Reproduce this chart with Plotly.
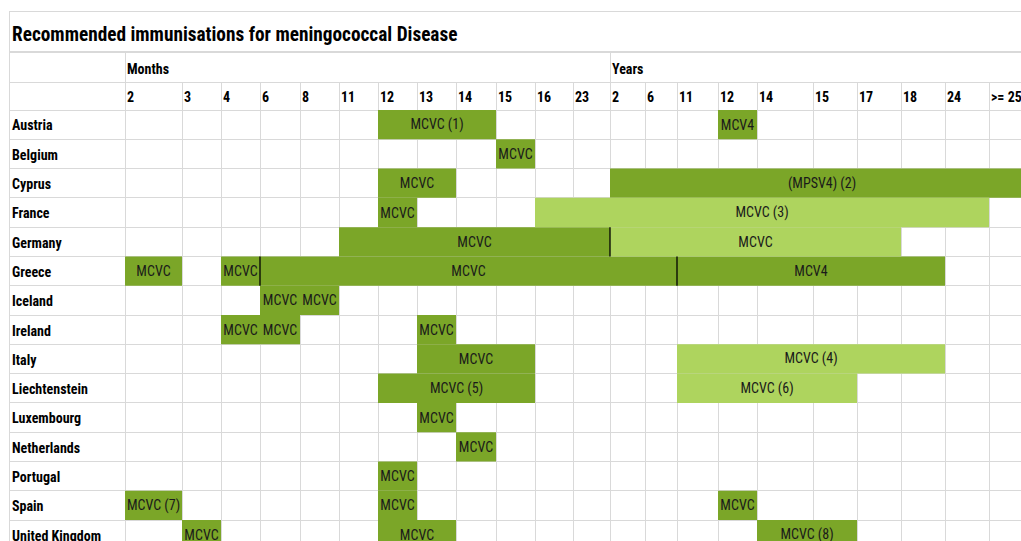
import plotly.graph_objects as go

# ---------------- data ----------------
TITLE = "Recommended immunisations for meningococcal Disease"
AGE_GROUPS = ["Months", "Years"]
MONTH_TICKS = ["2", "3", "4", "6", "8", "11", "12", "13", "14", "15", "16", "23"]
YEAR_TICKS = ["2", "6", "11", "12", "14", "15", "17", "18", "24", ">= 25"]
COUNTRIES = ["Austria", "Belgium", "Cyprus", "France", "Germany", "Greece",
             "Iceland", "Ireland", "Italy", "Liechtenstein", "Luxembourg",
             "Netherlands", "Portugal", "Spain", "United Kingdom"]

# Doses in dark green: country, first age column, last age column, label
# (column keys: "M" + month tick, "Y" + year tick)
DARK_COUNTRY = ["Austria", "Austria", "Belgium", "Cyprus", "Cyprus", "France",
                "Germany", "Greece", "Greece", "Greece", "Greece",
                "Iceland", "Iceland", "Ireland", "Ireland", "Ireland",
                "Italy", "Liechtenstein", "Luxembourg", "Netherlands",
                "Portugal", "Spain", "Spain", "Spain",
                "United Kingdom", "United Kingdom", "United Kingdom"]
DARK_FROM = ["M12", "Y12", "M15", "M12", "Y2", "M12",
             "M11", "M2", "M4", "M6", "Y11",
             "M6", "M8", "M4", "M6", "M13",
             "M13", "M12", "M13", "M14",
             "M12", "M2", "M12", "Y12",
             "M3", "M12", "Y14"]
DARK_TO = ["M14", "Y12", "M15", "M13", "Y>= 25", "M12",
           "M23", "M2", "M4", "Y6", "Y18",
           "M6", "M8", "M4", "M6", "M13",
           "M15", "M15", "M13", "M14",
           "M12", "M2", "M12", "Y12",
           "M3", "M13", "Y15"]
DARK_LABEL = ["MCVC (1)", "MCV4", "MCVC", "MCVC", "(MPSV4) (2)", "MCVC",
              "MCVC", "MCVC", "MCVC", "MCVC", "MCV4",
              "MCVC", "MCVC", "MCVC", "MCVC", "MCVC",
              "MCVC", "MCVC (5)", "MCVC", "MCVC",
              "MCVC", "MCVC (7)", "MCVC", "MCVC",
              "MCVC", "MCVC", "MCVC (8)"]

# Doses in light green
LIGHT_COUNTRY = ["France", "Germany", "Italy", "Liechtenstein"]
LIGHT_FROM = ["M16", "Y2", "Y11", "Y11"]
LIGHT_TO = ["Y24", "Y17", "Y18", "Y15"]
LIGHT_LABEL = ["MCVC (3)", "MCVC", "MCVC (4)", "MCVC (6)"]

# Cell borders drawn in black: country, column whose left edge carries the border
BORDER_COUNTRY = ["Germany", "Greece", "Greece"]
BORDER_COLUMN = ["Y2", "M6", "Y11"]

# ---------------- layout (pixel geometry of the sheet) ----------------
W, H = 1021, 541
SHEET_LEFT = 10
LABEL_COL_W = 115
COL_W = [57, 39, 39, 40, 39, 39, 39, 39, 40, 39, 38, 37,
         35, 32, 41, 39, 56, 44, 44, 44, 44, 45]
TITLE_TOP, MONTHS_TOP, NUMS_TOP, BODY_TOP = 12, 52, 82, 110
ROW_PX = 29.29
TEXT_DY = 0.08  # cell text sits slightly below the row centre

DARK = "#7BA628"
LIGHT = "#AED45E"
GRID = "#D9D9D9"
FONT = ("Roboto Condensed, Liberation Sans Narrow, Arial Narrow, "
        "DejaVu Sans Condensed, Roboto, sans-serif")

col_keys = ["M" + t for t in MONTH_TICKS] + ["Y" + t for t in YEAR_TICKS]
edges = [SHEET_LEFT + LABEL_COL_W]
for w in COL_W:
    edges.append(edges[-1] + w)
left = {k: edges[i] for i, k in enumerate(col_keys)}
right = {k: edges[i + 1] for i, k in enumerate(col_keys)}
row = {c: i for i, c in enumerate(COUNTRIES)}


def py(px):
    """paper y from pixel y"""
    return 1 - px / H


nums_row_units = (BODY_TOP - NUMS_TOP) / ROW_PX
y_top = -0.5 - nums_row_units
y_bottom = -0.5 + (H - BODY_TOP) / ROW_PX
nums_center = -0.5 - nums_row_units / 2

fig = go.Figure()


def add_bars(countries, froms, tos, labels, color):
    fig.add_trace(go.Bar(
        orientation="h",
        y=[row[c] for c in countries],
        base=[left[f] for f in froms],
        x=[right[t] - left[f] for f, t in zip(froms, tos)],
        width=1,
        text=labels,
        textposition="inside",
        insidetextanchor="middle",
        constraintext="none",
        textangle=0,
        textfont=dict(family=FONT, size=14, color="#1A1A1A"),
        marker=dict(color=color, line=dict(width=0)),
        hoverinfo="skip",
        showlegend=False,
        xaxis="x", yaxis="y",
    ))


add_bars(DARK_COUNTRY, DARK_FROM, DARK_TO, DARK_LABEL, DARK)
add_bars(LIGHT_COUNTRY, LIGHT_FROM, LIGHT_TO, LIGHT_LABEL, LIGHT)

# black cell borders
bx, by = [], []
for c, k in zip(BORDER_COUNTRY, BORDER_COLUMN):
    bx += [left[k], left[k], None]
    by += [row[c] - 0.5, row[c] + 0.5, None]
fig.add_trace(go.Scatter(x=bx, y=by, mode="lines",
                         line=dict(color="black", width=1.3),
                         hoverinfo="skip", showlegend=False))

# country labels
fig.add_trace(go.Scatter(
    x=[SHEET_LEFT + 2] * len(COUNTRIES),
    y=[i + TEXT_DY for i in range(len(COUNTRIES))],
    text=COUNTRIES, mode="text", textposition="middle right",
    textfont=dict(family=FONT, size=14, color="black", weight="bold"),
    hoverinfo="skip", showlegend=False))

# age column numbers
fig.add_trace(go.Scatter(
    x=[e + 2 for e in edges[:-1]], y=[nums_center + TEXT_DY] * len(col_keys),
    text=MONTH_TICKS + YEAR_TICKS, mode="text", textposition="middle right",
    textfont=dict(family=FONT, size=14, color="black", weight="bold"),
    hoverinfo="skip", showlegend=False))

# Months / Years header
group_starts = [left["M" + MONTH_TICKS[0]], left["Y" + YEAR_TICKS[0]]]
fig.add_trace(go.Scatter(
    x=[g + 2 for g in group_starts], y=[0.6, 0.6],
    text=AGE_GROUPS, mode="text", textposition="middle right",
    textfont=dict(family=FONT, size=14, color="black", weight="bold"),
    hoverinfo="skip", showlegend=False, xaxis="x2", yaxis="y2"))

# title row
fig.add_trace(go.Scatter(
    x=[SHEET_LEFT + 2], y=[0.6], text=[TITLE], mode="text",
    textposition="middle right",
    textfont=dict(family=FONT, size=19.3, color="black", weight="bold"),
    hoverinfo="skip", showlegend=False, xaxis="x3", yaxis="y3"))

xdom = [SHEET_LEFT / W, 1]
xcommon = dict(domain=xdom, range=[SHEET_LEFT, W], showticklabels=False,
               ticks="", zeroline=False, gridcolor=GRID, gridwidth=1.2,
               linecolor=GRID, linewidth=1.2, fixedrange=True)
ycommon = dict(showticklabels=False, ticks="", zeroline=False,
               showline=True, linecolor=GRID, linewidth=1.2,
               gridcolor=GRID, gridwidth=1.2, fixedrange=True)

fig.update_layout(
    width=W, height=H,
    margin=dict(l=0, r=0, t=0, b=0),
    paper_bgcolor="white", plot_bgcolor="white",
    barmode="overlay",
    showlegend=False,
    xaxis=dict(**xcommon, tickmode="array", tickvals=edges, showgrid=True,
               showline=False, anchor="y"),
    yaxis=dict(**ycommon, domain=[0, py(NUMS_TOP)], range=[y_bottom, y_top],
               tickmode="array",
               tickvals=[y_top] + [i - 0.5 for i in range(len(COUNTRIES) + 1)],
               showgrid=True, anchor="x"),
    xaxis2=dict(**xcommon, tickmode="array",
                tickvals=[group_starts[0], group_starts[1]], showgrid=True,
                showline=True, mirror=True, anchor="y2"),
    yaxis2=dict(**ycommon, domain=[py(NUMS_TOP), py(MONTHS_TOP)], range=[1, 0],
                showgrid=False, anchor="x2"),
    xaxis3=dict(**xcommon, showgrid=False, showline=True, mirror=True,
                anchor="y3"),
    yaxis3=dict(**ycommon, domain=[py(MONTHS_TOP), py(TITLE_TOP)], range=[1, 0],
                showgrid=False, anchor="x3"),
)

fig.write_html("out.html",
               config={"displayModeBar": False},
               post_script="document.body.style.margin='0';"
                           "document.body.style.overflow='hidden';")
